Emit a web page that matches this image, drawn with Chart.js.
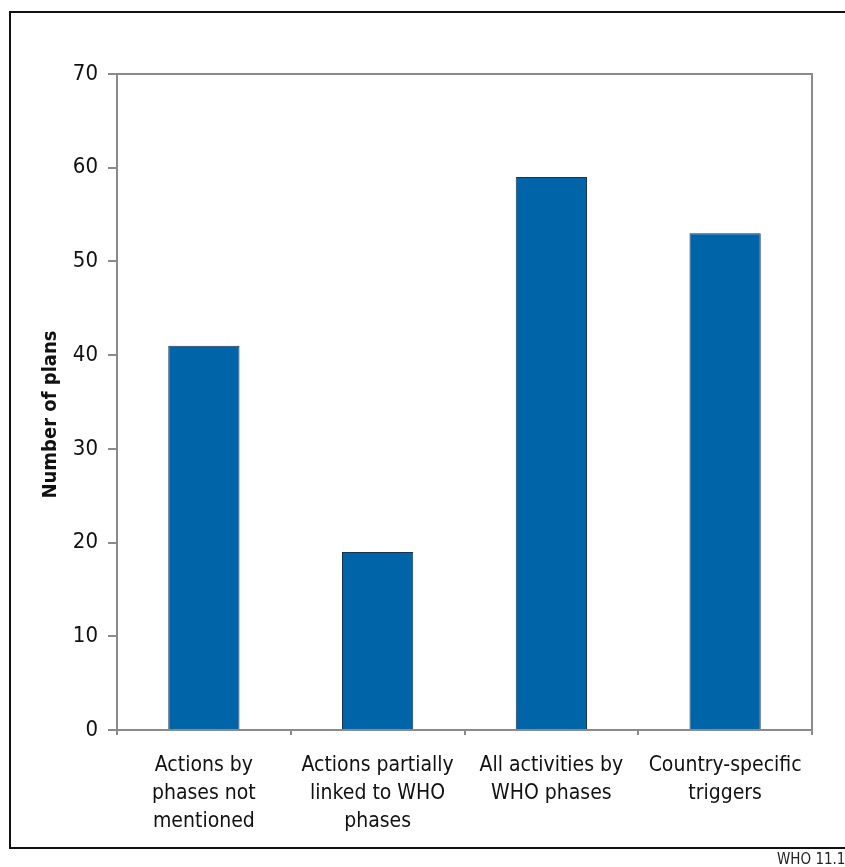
<!DOCTYPE html>
<html>
<head>
<meta charset="utf-8">
<script src="https://cdn.jsdelivr.net/npm/chart.js@4.4.1/dist/chart.umd.min.js"></script>
<style>
    html, body { margin: 0; padding: 0; background: #fff; overflow: hidden; }
    #wrap { position: relative; width: 845px; height: 867px; }
    #frame { position: absolute; left: 9px; top: 11px; width: 850px; height: 834px; border: 2px solid #111; box-sizing: content-box; }
    #chart { position: absolute; left: 0; top: 0; }
    #code { position: absolute; left: 777px; top: 850px; font: 15px "Liberation Sans Narrow", "DejaVu Sans Condensed", sans-serif; color: #222; white-space: nowrap; }
</style>
</head>
<body>
<div id="wrap">
    <div id="frame"></div>
    <canvas id="chart" width="845" height="867"></canvas>
    <div id="code">WHO 11.19</div>
</div>
<script>
const categories = [
    ['Actions by', 'phases not', 'mentioned'],
    ['Actions partially', 'linked to WHO', 'phases'],
    ['All activities by', 'WHO phases'],
    ['Country-specific', 'triggers']
];
const planCounts = [41, 19, 59, 53];
const yTicks = [0, 10, 20, 30, 40, 50, 60, 70];

const FONT = '"Liberation Sans Narrow", "DejaVu Sans Condensed", sans-serif';

// gray box round the plot area (top and right sides too)
const plotBox = {
    id: 'plotBox',
    afterDraw(chart) {
        const { ctx, chartArea: a } = chart;
        ctx.save();
        ctx.strokeStyle = '#8a8a8a';
        ctx.lineWidth = 2;
        ctx.strokeRect(a.left, a.top, a.right - a.left, a.bottom - a.top);
        ctx.restore();
    }
};

new Chart(document.getElementById('chart').getContext('2d'), {
    type: 'bar',
    data: {
        labels: categories,
        datasets: [{
            data: planCounts,
            backgroundColor: '#0064a8',
            borderColor: '#1b3352',
            borderWidth: 1,
            categoryPercentage: 1,
            barPercentage: 0.41
        }]
    },
    options: {
        responsive: false,
        animation: false,
        layout: { padding: { top: 74, right: 33, left: 0, bottom: 0 } },
        plugins: { legend: { display: false }, tooltip: { enabled: false } },
        scales: {
            x: {
                grid: { offset: true, drawOnChartArea: false, drawTicks: true, tickLength: 5, color: '#8a8a8a', lineWidth: 2 },
                border: { color: '#8a8a8a', width: 2 },
                ticks: { color: '#111', padding: 17, maxRotation: 0, autoSkip: false, font: { family: FONT, size: 21, lineHeight: 1.33 } },
                afterFit(scale) { scale.height = 137; }
            },
            y: {
                min: 0,
                max: 70,
                afterBuildTicks(scale) { scale.ticks = yTicks.map(v => ({ value: v })); },
                grid: { drawOnChartArea: false, drawTicks: true, tickLength: 9, color: '#8a8a8a', lineWidth: 2 },
                border: { color: '#8a8a8a', width: 2 },
                ticks: { color: '#111', padding: 10, font: { family: FONT, size: 22 } },
                title: {
                    display: true,
                    // trailing spaces push the rotated text a little lower, as in the original
                    text: 'Number of plans\u00a0\u00a0\u00a0\u00a0',
                    color: '#111',
                    padding: { top: 39, bottom: 0 },
                    font: { family: FONT, size: 20, weight: 'bold' }
                },
                afterFit(scale) { scale.width = 117; }
            }
        }
    },
    plugins: [plotBox]
});
</script>
</body>
</html>
